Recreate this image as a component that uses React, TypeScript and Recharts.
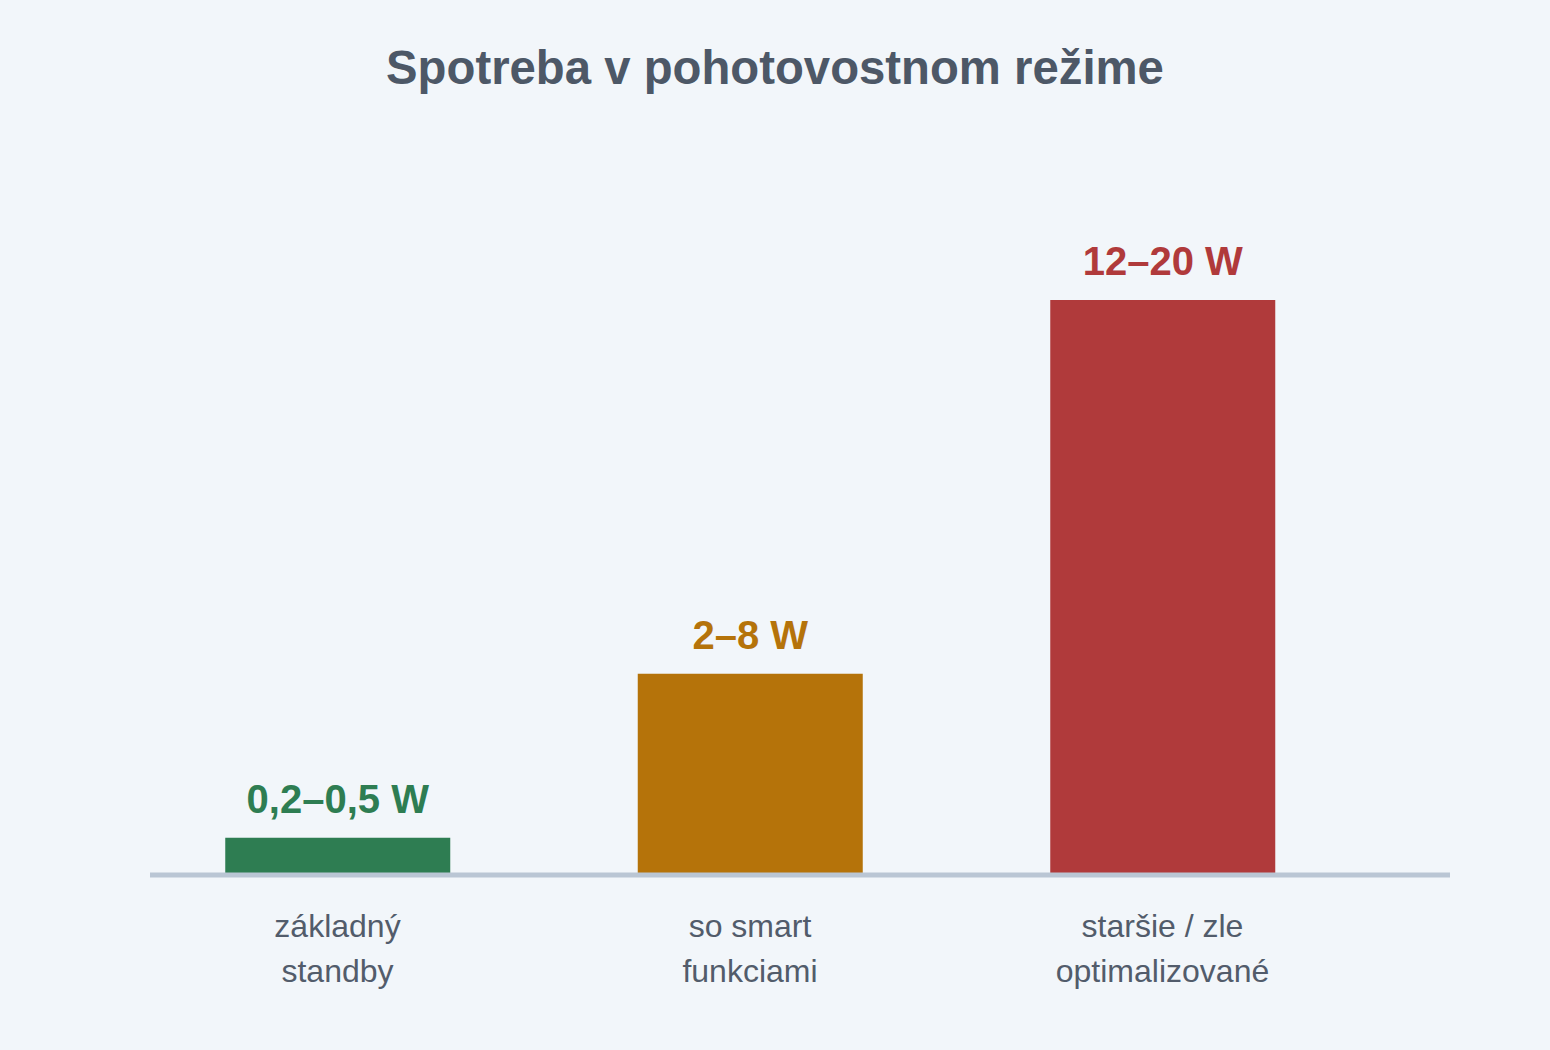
import React from "react"
import { BarChart, Bar, XAxis, YAxis, Cell, LabelList, ReferenceLine } from "recharts"

const categories = ["základný\nstandby", "so smart\nfunkciami", "staršie / zle\noptimalizované"]
const values = [1.3, 7, 20]
const valueLabels = ["0,2–0,5 W", "2–8 W", "12–20 W"]
const colors = ["#2e7d52", "#b5730a", "#b03a3b"]

const data = categories.map((name, i) => ({
  name,
  value: values[i],
  label: valueLabels[i],
  color: colors[i],
}))

const FONT = "'Liberation Sans', Arial, sans-serif"

function CategoryTick({ x, y, payload }: any) {
  const lines = String(payload.value).split("\n")
  return (
    <text x={x} y={y + 54} textAnchor="middle" fill="#525c6b" fontSize={32} fontFamily={FONT}>
      {lines.map((line, i) => (
        <tspan key={i} x={x} dy={i === 0 ? 0 : 45}>
          {line}
        </tspan>
      ))}
    </text>
  )
}

function ValueLabel(props: any) {
  const { x, y, width, index } = props
  return (
    <text
      x={x + width / 2}
      y={y - 25}
      textAnchor="middle"
      fill={colors[index]}
      fontSize={40}
      fontWeight="bold"
      fontFamily={FONT}
    >
      {valueLabels[index]}
    </text>
  )
}

export default function App() {
  return (
    <div
      style={{
        position: "absolute",
        left: 0,
        top: 0,
        width: 1550,
        height: 1050,
        background: "#f2f6fa",
        fontFamily: FONT,
      }}
    >
      <div
        style={{
          position: "absolute",
          top: 40,
          left: 0,
          width: 1550,
          textAlign: "center",
          fontSize: 47.3,
          fontWeight: "bold",
          color: "#4d5867",
          lineHeight: "56px",
        }}
      >
        Spotreba v pohotovostnom režime
      </div>
      <BarChart
        width={1550}
        height={1050}
        data={data}
        margin={{ top: 300, right: 100, bottom: 145, left: 150 }}
        style={{ position: "absolute", left: 0, top: 0 }}
      >
        <YAxis hide domain={[0, 20]} />
        <XAxis
          dataKey="name"
          axisLine={false}
          tickLine={false}
          padding={{ left: -18.75, right: 81.25 }}
          tick={<CategoryTick />}
          interval={0}
        />
        <ReferenceLine y={0} stroke="#bac6d4" strokeWidth={5} />
        <Bar dataKey="value" barSize={225} isAnimationActive={false}>
          {data.map((d, i) => (
            <Cell key={i} fill={d.color} />
          ))}
          <LabelList dataKey="label" content={<ValueLabel />} />
        </Bar>
      </BarChart>
    </div>
  )
}
